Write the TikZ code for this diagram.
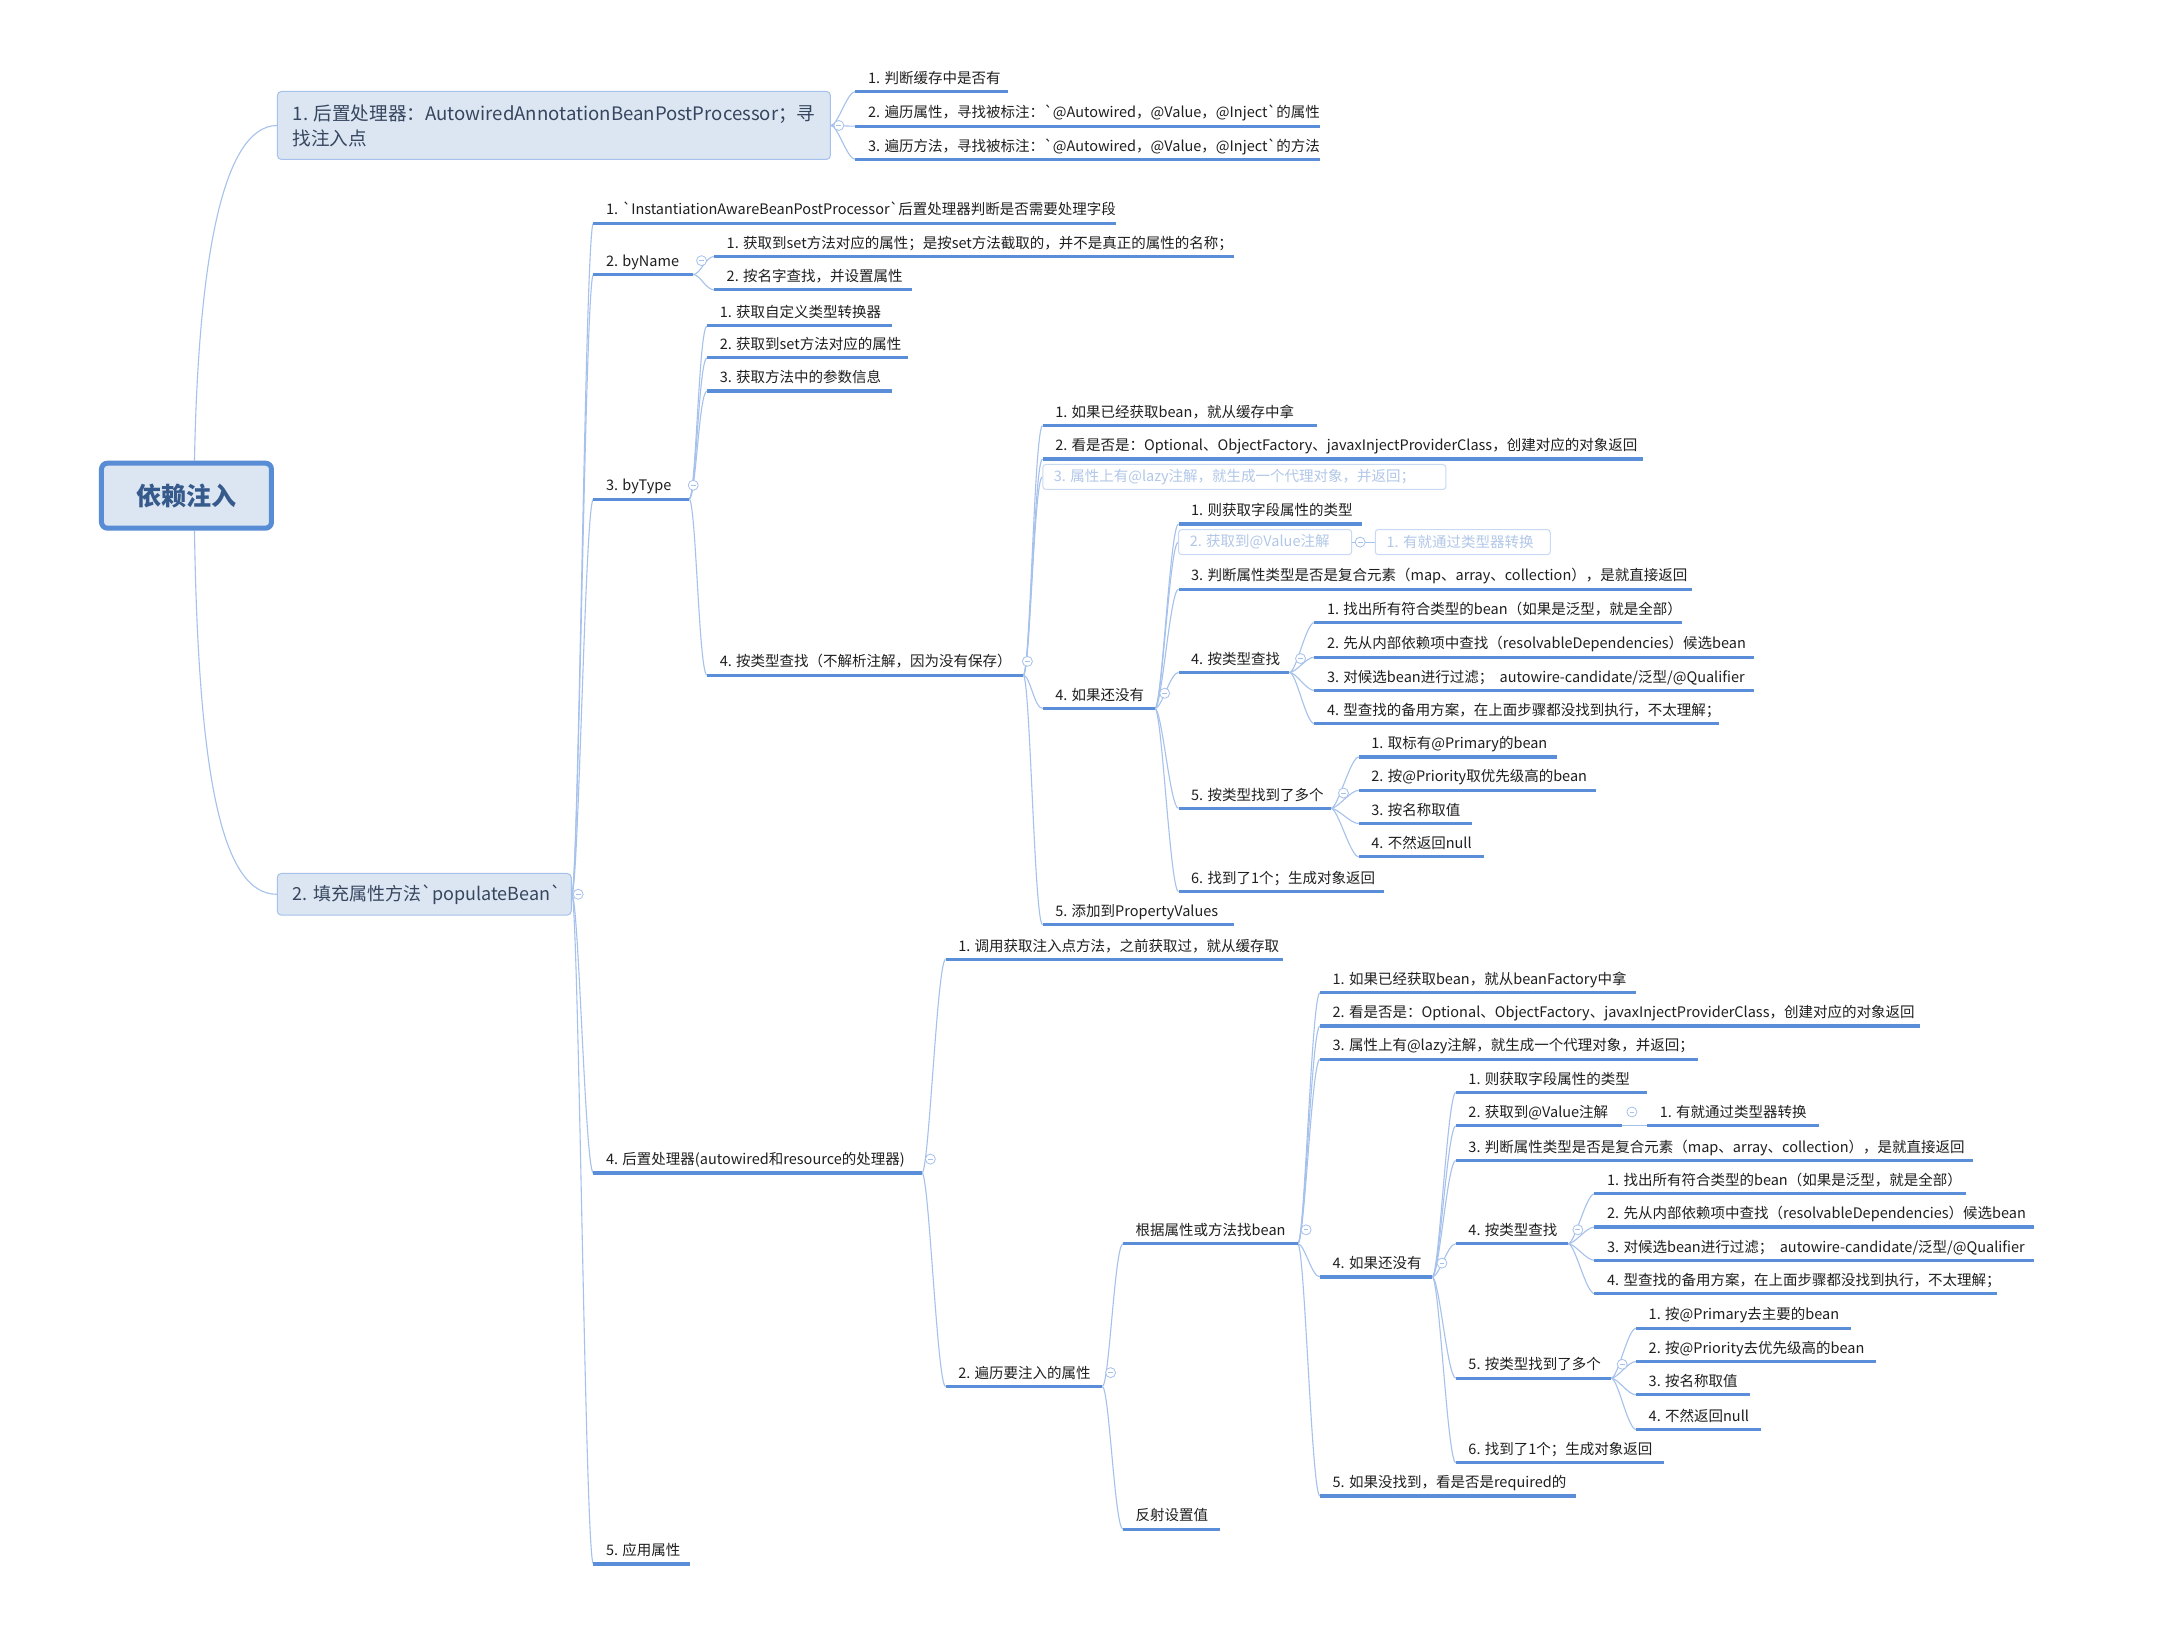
\documentclass[tikz,border=0pt]{standalone}
\usepackage{fontspec}
\setmainfont{Noto Sans CJK SC}
\setmonofont{Noto Sans CJK SC}
\newcommand\bq{{\ttfamily\symbol{96}}}
\definecolor{ulblue}{RGB}{91,142,216}
\definecolor{connblue}{RGB}{165,193,236}
\definecolor{boxfill}{RGB}{220,230,242}
\definecolor{boxdraw}{RGB}{165,193,236}
\definecolor{rootdraw}{RGB}{88,140,212}
\definecolor{roottext}{RGB}{55,90,140}
\definecolor{nodetext}{RGB}{55,70,95}
\definecolor{fadetext}{RGB}{178,199,232}
\definecolor{fadedraw}{RGB}{200,218,243}
\pgfdeclarelayer{bg}
\pgfsetlayers{bg,main}
\tikzset{
  ul/.style={line width=3.2pt, draw=ulblue},
  conn/.style={draw=connblue, line width=1.1pt},
  lbl/.style={anchor=base west, inner sep=0pt, font=\fontsize{14.5}{17}\selectfont, text=black!88},
  tog/.style={circle, draw=connblue, fill=white, line width=0.8pt, minimum size=10pt, inner sep=0pt,
    path picture={\draw[connblue, line width=0.8pt] ([xshift=-2.4pt]path picture bounding box.center) -- ([xshift=2.4pt]path picture bounding box.center);}},
  bigbox/.style={draw=boxdraw, fill=boxfill, rounded corners=4pt, line width=1pt},
  fadebox/.style={draw=fadedraw, fill=white, rounded corners=3pt, line width=1pt, minimum height=25pt},
  fadelbl/.style={anchor=west, inner sep=0pt, font=\fontsize{14.5}{17}\selectfont, text=fadetext},
}
\newcommand\lab[5]{%
  \coordinate (#1-l) at (#2,#4);
  \coordinate (#1-r) at (#3,#4);
  \draw[ul] (#1-l) -- (#1-r);
  \node[lbl] (#1) at (#2+9,#4-6) {#5};
}
\newcommand\con[2]{\draw[conn] (#1) .. controls +(5,0) and +(-6,0) .. (#2);}
\begin{document}
\begin{tikzpicture}[x=1.3865pt,y=-1.3865pt]
\useasboundingbox (0,0) rectangle (1568,1183);

% root and main branches
\node[draw=rootdraw, fill=boxfill, line width=5pt, rounded corners=6pt, minimum width=170pt, minimum height=65pt,
  font=\fontsize{25}{30}\selectfont\bfseries, text=roottext] (root) at (134.5,357.5) {依赖注入};
\node[bigbox, minimum width=553pt, minimum height=68pt] (n1) at (399.5,90.5) {};
\node[anchor=west, inner sep=0pt, align=left, font=\fontsize{18.6}{25}\selectfont, text=nodetext] (n1t) at (211,90.5)
  {1. 后置处理器：AutowiredAnnotationBeanPostProcessor；寻\\找注入点};
\node[bigbox, minimum width=294pt, minimum height=41.6pt] (n2) at (306,645) {};
\node[anchor=west, inner sep=0pt, font=\fontsize{18}{22}\selectfont, text=nodetext] (n2t) at (211,645)
  {2. 填充属性方法\bq populateBean\bq};

% node 1 children
\lab{a1}{617}{727}{66}{1. 判断缓存中是否有}
\lab{a2}{617}{952}{91}{2. 遍历属性，寻找被标注：\bq @Autowired，@Value，@Inject\bq 的属性}
\lab{a3}{617}{952}{115}{3. 遍历方法，寻找被标注：\bq @Autowired，@Value，@Inject\bq 的方法}

% node 2 children
\lab{b1}{428}{805}{161}{1. \bq InstantiationAwareBeanPostProcessor\bq 后置处理器判断是否需要处理字段}
\lab{b2}{428}{500}{198}{2. byName}
\lab{b21}{515}{890}{185}{1. 获取到set方法对应的属性；是按set方法截取的，并不是真正的属性的名称；}
\lab{b22}{515}{658}{209}{2. 按名字查找，并设置属性}
\lab{b3}{428}{497}{360}{3. byType}
\lab{b31}{510}{643}{235}{1. 获取自定义类型转换器}
\lab{b32}{510}{655}{258}{2. 获取到set方法对应的属性}
\lab{b33}{510}{643}{282}{3. 获取方法中的参数信息}
\lab{b34}{510}{738}{487}{4. 按类型查找（不解析注解，因为没有保存）}
\lab{c1}{752}{950}{307}{1. 如果已经获取bean，就从缓存中拿}
\lab{c2}{752}{1185}{331}{2. 看是否是：Optional、ObjectFactory、javaxInjectProviderClass，创建对应的对象返回}
\node[fadebox, minimum width=403pt] (c3) at (897.5,344) {};
\node[fadelbl] (c3t) at (760,344) {3. 属性上有@lazy注解，就生成一个代理对象，并返回；};
\lab{c4}{752}{833}{511}{4. 如果还没有}
\lab{d1}{850}{982}{378}{1. 则获取字段属性的类型}
\node[fadebox, minimum width=173pt] (d2) at (912.5,391) {};
\node[fadelbl] (d2t) at (858,391) {2. 获取到@Value注解};
\node[fadebox, minimum width=175pt] (d2a) at (1055,391) {};
\node[fadelbl] (d2at) at (1000,391) {1. 有就通过类型器转换};
\lab{d3}{850}{1220}{425}{3. 判断属性类型是否是复合元素（map、array、collection），是就直接返回}
\lab{d4}{850}{930}{485}{4. 按类型查找}
\lab{e1}{948}{1213}{449}{1. 找出所有符合类型的bean（如果是泛型，就是全部）}
\lab{e2}{948}{1265}{474}{2. 先从内部依赖项中查找（resolvableDependencies）候选bean}
\lab{e3}{948}{1265}{498}{3. 对候选bean进行过滤；\ \ autowire-candidate/泛型/@Qualifier}
\lab{e4}{948}{1240}{522}{4. 型查找的备用方案，在上面步骤都没找到执行，不太理解；}
\lab{d5}{850}{960}{583}{5. 按类型找到了多个}
\lab{f1}{980}{1123}{546}{1. 取标有@Primary的bean}
\lab{f2}{980}{1151}{570}{2. 按@Priority取优先级高的bean}
\lab{f3}{980}{1062}{594}{3. 按名称取值}
\lab{f4}{980}{1070}{618}{4. 不然返回null}
\lab{d6}{850}{998}{643}{6. 找到了1个；生成对象返回}
\lab{c5}{752}{890}{667}{5. 添加到PropertyValues}
\lab{b4}{428}{665}{846}{4. 后置处理器(autowired和resource的处理器)}
\lab{g1}{682}{925}{692}{1. 调用获取注入点方法，之前获取过，就从缓存取}
\lab{g2}{682}{795}{1000}{2. 遍历要注入的属性}
\lab{h1}{810}{936}{897}{根据属性或方法找bean}
\lab{i1}{952}{1180}{716}{1. 如果已经获取bean，就从beanFactory中拿}
\lab{i2}{952}{1385}{740}{2. 看是否是：Optional、ObjectFactory、javaxInjectProviderClass，创建对应的对象返回}
\lab{i3}{952}{1225}{764}{3. 属性上有@lazy注解，就生成一个代理对象，并返回；}
\lab{i4}{952}{1033}{921}{4. 如果还没有}
\lab{j1}{1050}{1188}{788}{1. 则获取字段属性的类型}
\lab{j2}{1050}{1170}{812}{2. 获取到@Value注解}
\lab{j2a}{1188}{1312}{812}{1. 有就通过类型器转换}
\lab{j3}{1050}{1423}{837}{3. 判断属性类型是否是复合元素（map、array、collection），是就直接返回}
\lab{j4}{1050}{1131}{897}{4. 按类型查找}
\lab{k1}{1150}{1418}{861}{1. 找出所有符合类型的bean（如果是泛型，就是全部）}
\lab{k2}{1150}{1467}{885}{2. 先从内部依赖项中查找（resolvableDependencies）候选bean}
\lab{k3}{1150}{1467}{909}{3. 对候选bean进行过滤；\ \ autowire-candidate/泛型/@Qualifier}
\lab{k4}{1150}{1440}{933}{4. 型查找的备用方案，在上面步骤都没找到执行，不太理解；}
\lab{j5}{1050}{1162}{994}{5. 按类型找到了多个}
\lab{l1}{1180}{1335}{958}{1. 按@Primary去主要的bean}
\lab{l2}{1180}{1353}{982}{2. 按@Priority去优先级高的bean}
\lab{l3}{1180}{1262}{1006}{3. 按名称取值}
\lab{l4}{1180}{1270}{1031}{4. 不然返回null}
\lab{j6}{1050}{1200}{1055}{6. 找到了1个；生成对象返回}
\lab{i5}{952}{1137}{1079}{5. 如果没找到，看是否是required的}
\lab{h2}{810}{880}{1103}{反射设置值}
\lab{b5}{428}{498}{1128}{5. 应用属性}

% connectors
\begin{pgfonlayer}{bg}
\fill[white] (0,0) rectangle (1568,1183);
\draw[conn] ([xshift=8pt]root.north) .. controls (143,190) and (160,91) .. (n1.west);
\draw[conn] ([xshift=8pt]root.south) .. controls (143,560) and (160,645) .. (n2.west);
\foreach \c in {a1,a2,a3} {\con{n1.east}{\c-l}}
\foreach \c in {b1,b2,b3,b4,b5} {\con{n2.east}{\c-l}}
\foreach \c in {b21,b22} {\con{b2-r}{\c-l}}
\foreach \c in {b31,b32,b33,b34} {\con{b3-r}{\c-l}}
\foreach \c in {c1-l,c2-l,c3.west,c4-l,c5-l} {\con{b34-r}{\c}}
\foreach \c in {d1-l,d2.west,d3-l,d4-l,d5-l,d6-l} {\con{c4-r}{\c}}
\draw[conn] (d2.east) -- (d2a.west);
\foreach \c in {e1,e2,e3,e4} {\con{d4-r}{\c-l}}
\foreach \c in {f1,f2,f3,f4} {\con{d5-r}{\c-l}}
\foreach \c in {g1,g2} {\con{b4-r}{\c-l}}
\foreach \c in {h1,h2} {\con{g2-r}{\c-l}}
\foreach \c in {i1,i2,i3,i4,i5} {\con{h1-r}{\c-l}}
\foreach \c in {j1,j2,j3,j4,j5,j6} {\con{i4-r}{\c-l}}
\draw[conn] (j2-r) -- (j2a-l);
\foreach \c in {k1,k2,k3,k4} {\con{j4-r}{\c-l}}
\foreach \c in {l1,l2,l3,l4} {\con{j5-r}{\c-l}}
\end{pgfonlayer}

% collapse toggles
\node[tog] (t1) at (605,90.5) {};
\node[tog] (t2) at (417,645) {};
\node[tog] (t3) at (506,188) {};
\node[tog] (t4) at (500,350) {};
\node[tog] (t5) at (741,477) {};
\node[tog] (t6) at (840,500) {};
\node[tog] (t7) at (981,391) {};
\node[tog] (t8) at (938,475) {};
\node[tog] (t9) at (969,572) {};
\node[tog] (t10) at (671,836) {};
\node[tog] (t11) at (801,990) {};
\node[tog] (t12) at (942,887) {};
\node[tog] (t13) at (1040,911) {};
\node[tog] (t14) at (1177,802) {};
\node[tog] (t15) at (1138,887) {};
\node[tog] (t16) at (1170,984) {};
\end{tikzpicture}
\end{document}
